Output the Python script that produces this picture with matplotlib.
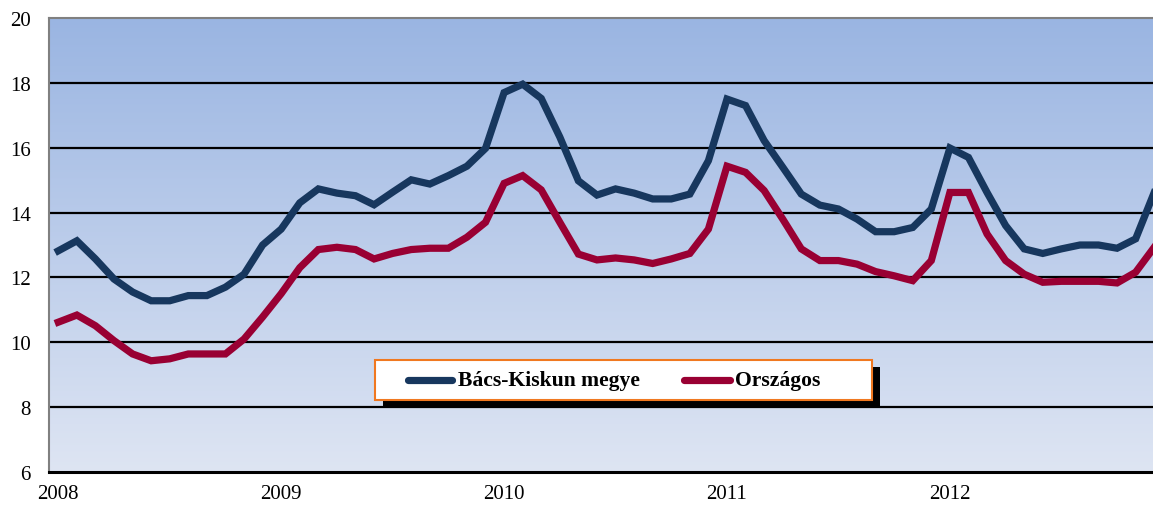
import matplotlib
matplotlib.use("Agg")
import matplotlib.pyplot as plt
import numpy as np
from matplotlib.colors import LinearSegmentedColormap
from matplotlib.patches import Rectangle
from matplotlib.lines import Line2D

years = ["2008", "2009", "2010", "2011", "2012"]
series_names = ["Bács-Kiskun megye", "Országos"]
bacs_kiskun = [12.82, 13.13, 12.57, 11.95, 11.55, 11.28, 11.28, 11.44, 11.44, 11.7, 12.1, 13.0,
               13.49, 14.3, 14.73, 14.6, 14.52, 14.24, 14.63, 15.01, 14.88, 15.14, 15.43, 15.98,
               17.7, 17.96, 17.52, 16.33, 14.98, 14.54, 14.73, 14.6, 14.42, 14.42, 14.57, 15.6,
               17.5, 17.3, 16.22, 15.4, 14.57, 14.23, 14.11, 13.8, 13.41, 13.41, 13.54, 14.11,
               15.99, 15.7, 14.62, 13.6, 12.88, 12.74, 12.88, 13.0, 13.0, 12.9, 13.19, 14.62]
orszagos = [10.62, 10.84, 10.51, 10.05, 9.64, 9.43, 9.49, 9.64, 9.64, 9.64, 10.1, 10.78,
            11.5, 12.3, 12.86, 12.93, 12.86, 12.57, 12.74, 12.86, 12.9, 12.9, 13.24, 13.7,
            14.9, 15.14, 14.7, 13.7, 12.72, 12.54, 12.6, 12.54, 12.43, 12.57, 12.74, 13.49,
            15.43, 15.24, 14.68, 13.8, 12.88, 12.52, 12.52, 12.41, 12.18, 12.05, 11.9, 12.52,
            14.62, 14.62, 13.34, 12.52, 12.1, 11.85, 11.88, 11.88, 11.88, 11.83, 12.16, 12.93]

blue = "#17375E"
red = "#990033"

W, H = 1153, 506
fig = plt.figure(figsize=(W / 100, H / 100), dpi=100)
left_px, right_px, top_px, bot_px = 49, 1163.5, 19, 473
ax = fig.add_axes([left_px / W, (H - bot_px) / H, (right_px - left_px) / W, (bot_px - top_px) / H])

x = np.arange(len(bacs_kiskun))
ax.set_xlim(-0.5, len(x) - 0.5)
ax.set_ylim(6, 20)

cmap = LinearSegmentedColormap.from_list("bg", ["#DEE5F3", "#9AB5E2"])
grad = np.linspace(0, 1, 256).reshape(-1, 1)
ax.imshow(grad, cmap=cmap, origin="lower", aspect="auto",
          extent=[-0.5, len(x) - 0.5, 6, 20], zorder=0)

for yv in range(8, 20, 2):
    ax.axhline(yv, color="black", lw=1.6, zorder=1)

ax.plot(x, bacs_kiskun, color=blue, lw=5.2, zorder=3, solid_joinstyle="miter")
ax.plot(x, orszagos, color=red, lw=5.2, zorder=3, solid_joinstyle="miter")

ax.set_yticks(range(6, 21, 2))
ax.set_yticklabels([str(v) for v in range(6, 21, 2)])
ax.set_xticks(np.arange(0, len(x), 12))
ax.set_xticklabels(years)
ax.tick_params(axis="both", length=0, labelsize=15, labelcolor="black")
ax.tick_params(axis="y", pad=13)
ax.tick_params(axis="x", pad=9)
for lab in ax.get_xticklabels() + ax.get_yticklabels():
    lab.set_family("Liberation Serif")

ax.spines["left"].set_color("#808080")
ax.spines["left"].set_linewidth(1.5)
ax.spines["top"].set_color("#808080")
ax.spines["top"].set_linewidth(1.5)
ax.spines["right"].set_visible(False)
ax.spines["bottom"].set_color("black")
ax.spines["bottom"].set_linewidth(2.2)
ax.spines["bottom"].set_zorder(4)

# legend (drawn in figure pixel coordinates)
def fx(px):
    return px / W

def fy(py):
    return (H - py) / H

bx0, bx1, by0, by1 = 375, 872, 361, 401
fig.patches.append(Rectangle((fx(bx0 + 8), fy(by1 + 7)), fx(bx1 - bx0), (by1 - by0) / H,
                             transform=fig.transFigure, facecolor="black", edgecolor="none", zorder=5))
fig.patches.append(Rectangle((fx(bx0), fy(by1)), fx(bx1 - bx0), (by1 - by0) / H,
                             transform=fig.transFigure, facecolor="white", edgecolor="#F07820",
                             lw=1.5, zorder=6))
ly = fy(381)
fig.lines.append(Line2D([fx(408), fx(452)], [ly, ly], transform=fig.transFigure, color=blue,
                        lw=5.2, solid_capstyle="round", zorder=7))
fig.lines.append(Line2D([fx(684), fx(730)], [ly, ly], transform=fig.transFigure, color=red,
                        lw=5.2, solid_capstyle="round", zorder=7))
fig.text(fx(458), ly, series_names[0], ha="left", va="center", fontsize=15.6, fontweight="bold",
         family="Liberation Serif", zorder=8)
fig.text(fx(735), ly, series_names[1], ha="left", va="center", fontsize=15.6, fontweight="bold",
         family="Liberation Serif", zorder=8)

fig.savefig("out.png", dpi=100)
